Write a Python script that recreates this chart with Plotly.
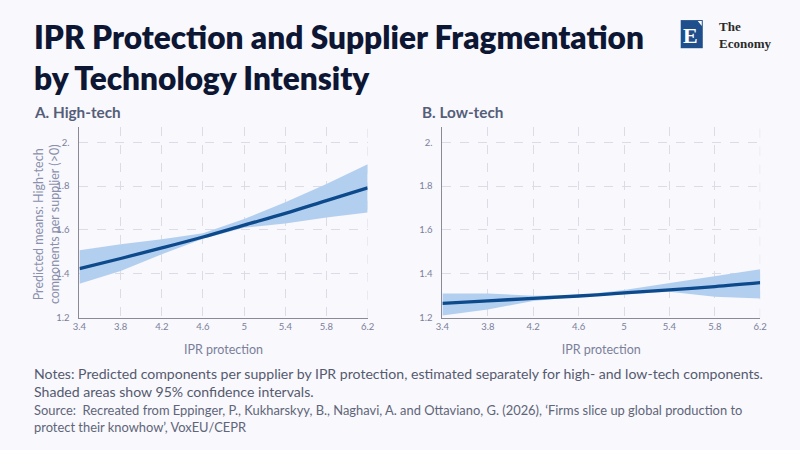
import plotly.graph_objects as go

# ---------- data ----------
ipr = [3.4, 3.8, 4.2, 4.6, 5.0, 5.4, 5.8, 6.2]

high_mean = [1.424, 1.470, 1.518, 1.568, 1.622, 1.676, 1.734, 1.792]
high_upper = [1.508, 1.535, 1.558, 1.585, 1.650, 1.726, 1.810, 1.900]
high_lower = [1.355, 1.413, 1.489, 1.560, 1.610, 1.630, 1.657, 1.680]

low_mean = [1.265, 1.277, 1.288, 1.299, 1.313, 1.327, 1.342, 1.360]
low_upper = [1.311, 1.311, 1.300, 1.302, 1.326, 1.358, 1.390, 1.421]
low_lower = [1.210, 1.238, 1.276, 1.296, 1.306, 1.318, 1.296, 1.288]

y_ticks = [1.2, 1.4, 1.6, 1.8, 2.0]
y_tick_text = ["1.2", "1.4", "1.6", "1.8", "2."]
x_ticks = [3.4, 3.8, 4.2, 4.6, 5.0, 5.4, 5.8, 6.2]
x_tick_text = ["3.4", "3.8", "4.2", "4.6", "5", "5.4", "5.8", "6.2"]

BG = "#f8f8fd"
FONT = "Source Sans Pro, Lato, sans-serif"
LINE = "#0d4a8c"
BAND = "#b3cff0"
TICK = "#7a809a"
GRID = "#dcdce6"

# positions are measured in picture pixels and mapped to paper
# coordinates (the photo frames and slightly shrinks the page)
W, H = 800, 450


def px(x):
    return (x - 8) / 784


def py(y):
    return 1 - (y - 2) / 443


def panel(xa, ya, mean, upper, lower):
    return [
        go.Scatter(x=ipr, y=upper, mode="lines", line=dict(width=0),
                   hoverinfo="skip", showlegend=False, xaxis=xa, yaxis=ya),
        go.Scatter(x=ipr, y=lower, mode="lines", line=dict(width=0),
                   fill="tonexty", fillcolor=BAND,
                   hoverinfo="skip", showlegend=False, xaxis=xa, yaxis=ya),
        go.Scatter(x=ipr, y=mean, mode="lines",
                   line=dict(color=LINE, width=3.3, shape="spline"),
                   showlegend=False, xaxis=xa, yaxis=ya),
    ]


fig = go.Figure(panel("x", "y", high_mean, high_upper, high_lower)
                + panel("x2", "y2", low_mean, low_upper, low_lower))

xaxis_common = dict(
    range=[3.4, 6.2], tickvals=x_ticks, ticktext=x_tick_text,
    showgrid=True, griddash="dash", gridcolor=GRID, gridwidth=1,
    showline=True, linecolor="#8a8a96", linewidth=1,
    zeroline=False, ticks="", tickfont=dict(family=FONT, size=9.5, color=TICK),
    title=dict(text="IPR protection", standoff=14,
               font=dict(family=FONT, size=12.5, color="#7a809a")),
)
yaxis_common = dict(
    range=[1.2, 2.07], tickvals=y_ticks, ticktext=y_tick_text,
    showgrid=True, griddash="dash", gridcolor=GRID, gridwidth=1,
    showline=True, linecolor="#8a8a96", linewidth=1,
    zeroline=False, ticks="", ticklabelstandoff=7,
    tickfont=dict(family=FONT, size=9.5, color=TICK),
    domain=[py(318.3), py(128.3)],
)

fig.update_layout(
    width=W, height=H,
    paper_bgcolor=BG, plot_bgcolor=BG,
    margin=dict(l=0, r=0, t=0, b=0),
    font=dict(family=FONT),
    xaxis=dict(xaxis_common, domain=[px(80.3), px(367.7)], anchor="y"),
    yaxis=dict(yaxis_common, anchor="x"),
    xaxis2=dict(xaxis_common, domain=[px(442.3), px(759.3)], anchor="y2"),
    yaxis2=dict(yaxis_common, anchor="x2"),
)

# vertical grid line at the right edge of each panel
for xr, yr in (("x", "y"), ("x2", "y2")):
    fig.add_shape(type="line", xref=xr, yref=yr, x0=6.2, x1=6.2, y0=1.2, y1=2.07,
                  line=dict(color=GRID, width=1, dash="dash"), layer="below")

# y-axis title of panel A
fig.add_annotation(text="Predicted means: High-tech<br>components per supplier (>0)",
                   xref="paper", yref="paper", x=px(47), y=py(225),
                   xanchor="center", yanchor="middle", textangle=-90,
                   showarrow=False,
                   font=dict(family=FONT, size=12.5, color="#8a90ac"))

title_font = dict(family=FONT, size=31.6, color="#0d1633", weight=800)
fig.add_annotation(text="IPR Protection and Supplier Fragmentation<br>by Technology Intensity",
                   xref="paper", yref="paper", x=px(33), y=py(18),
                   xanchor="left", yanchor="top", align="left", showarrow=False,
                   font=title_font)
fig.add_annotation(text="<b>A. High-tech</b>", xref="paper", yref="paper",
                   x=px(33), y=py(113), xanchor="left", yanchor="middle",
                   showarrow=False, font=dict(family=FONT, size=15.3, color="#555e78"))
fig.add_annotation(text="<b>B. Low-tech</b>", xref="paper", yref="paper",
                   x=px(420), y=py(113), xanchor="left", yanchor="middle",
                   showarrow=False, font=dict(family=FONT, size=15.3, color="#555e78"))

fig.add_annotation(
    text="Notes: Predicted components per supplier by IPR protection, estimated separately for high- and low-tech components.<br>"
         "Shaded areas show 95% confidence intervals.",
    xref="paper", yref="paper", x=px(33), y=py(363),
    xanchor="left", yanchor="top", align="left", showarrow=False,
    font=dict(family=FONT, size=14.1, color="#555a6e"))
fig.add_annotation(
    text="Source:  Recreated from Eppinger, P., Kukharskyy, B., Naghavi, A. and Ottaviano, G. (2026), \u2018Firms slice up global production to<br>"
         "protect their knowhow\u2019, VoxEU/CEPR",
    xref="paper", yref="paper", x=px(33), y=py(400),
    xanchor="left", yanchor="top", align="left", showarrow=False,
    font=dict(family=FONT, size=12.9, color="#606578"))

# logo
fig.add_shape(type="rect", xref="paper", yref="paper",
              x0=px(680), x1=px(702), y0=py(50), y1=py(22),
              fillcolor="#1f4e8c", line=dict(width=0), layer="below")
fig.add_shape(type="path", xref="paper", yref="paper",
              path=f"M {px(697)} {py(23)} L {px(701)} {py(23)} L {px(701)} {py(28)} Z",
              fillcolor="white", line=dict(width=0), layer="below")
fig.add_annotation(text="<b>E</b>", xref="paper", yref="paper", x=px(690), y=py(37),
                   xanchor="center", yanchor="middle", showarrow=False,
                   font=dict(family="Liberation Serif, serif", size=22, color="#ffffff"))
fig.add_annotation(text="<b>The</b><br><b>Economy</b>", xref="paper", yref="paper",
                   x=px(716), y=py(37), xanchor="left", yanchor="middle",
                   align="left", showarrow=False,
                   font=dict(family="Liberation Serif, serif", size=13, color="#2a2a2a"))

fig.write_html("out.html", config=dict(displayModeBar=False),
               post_script="document.body.style.margin='0';"
                           "document.body.style.background='#f8f8fd';")
